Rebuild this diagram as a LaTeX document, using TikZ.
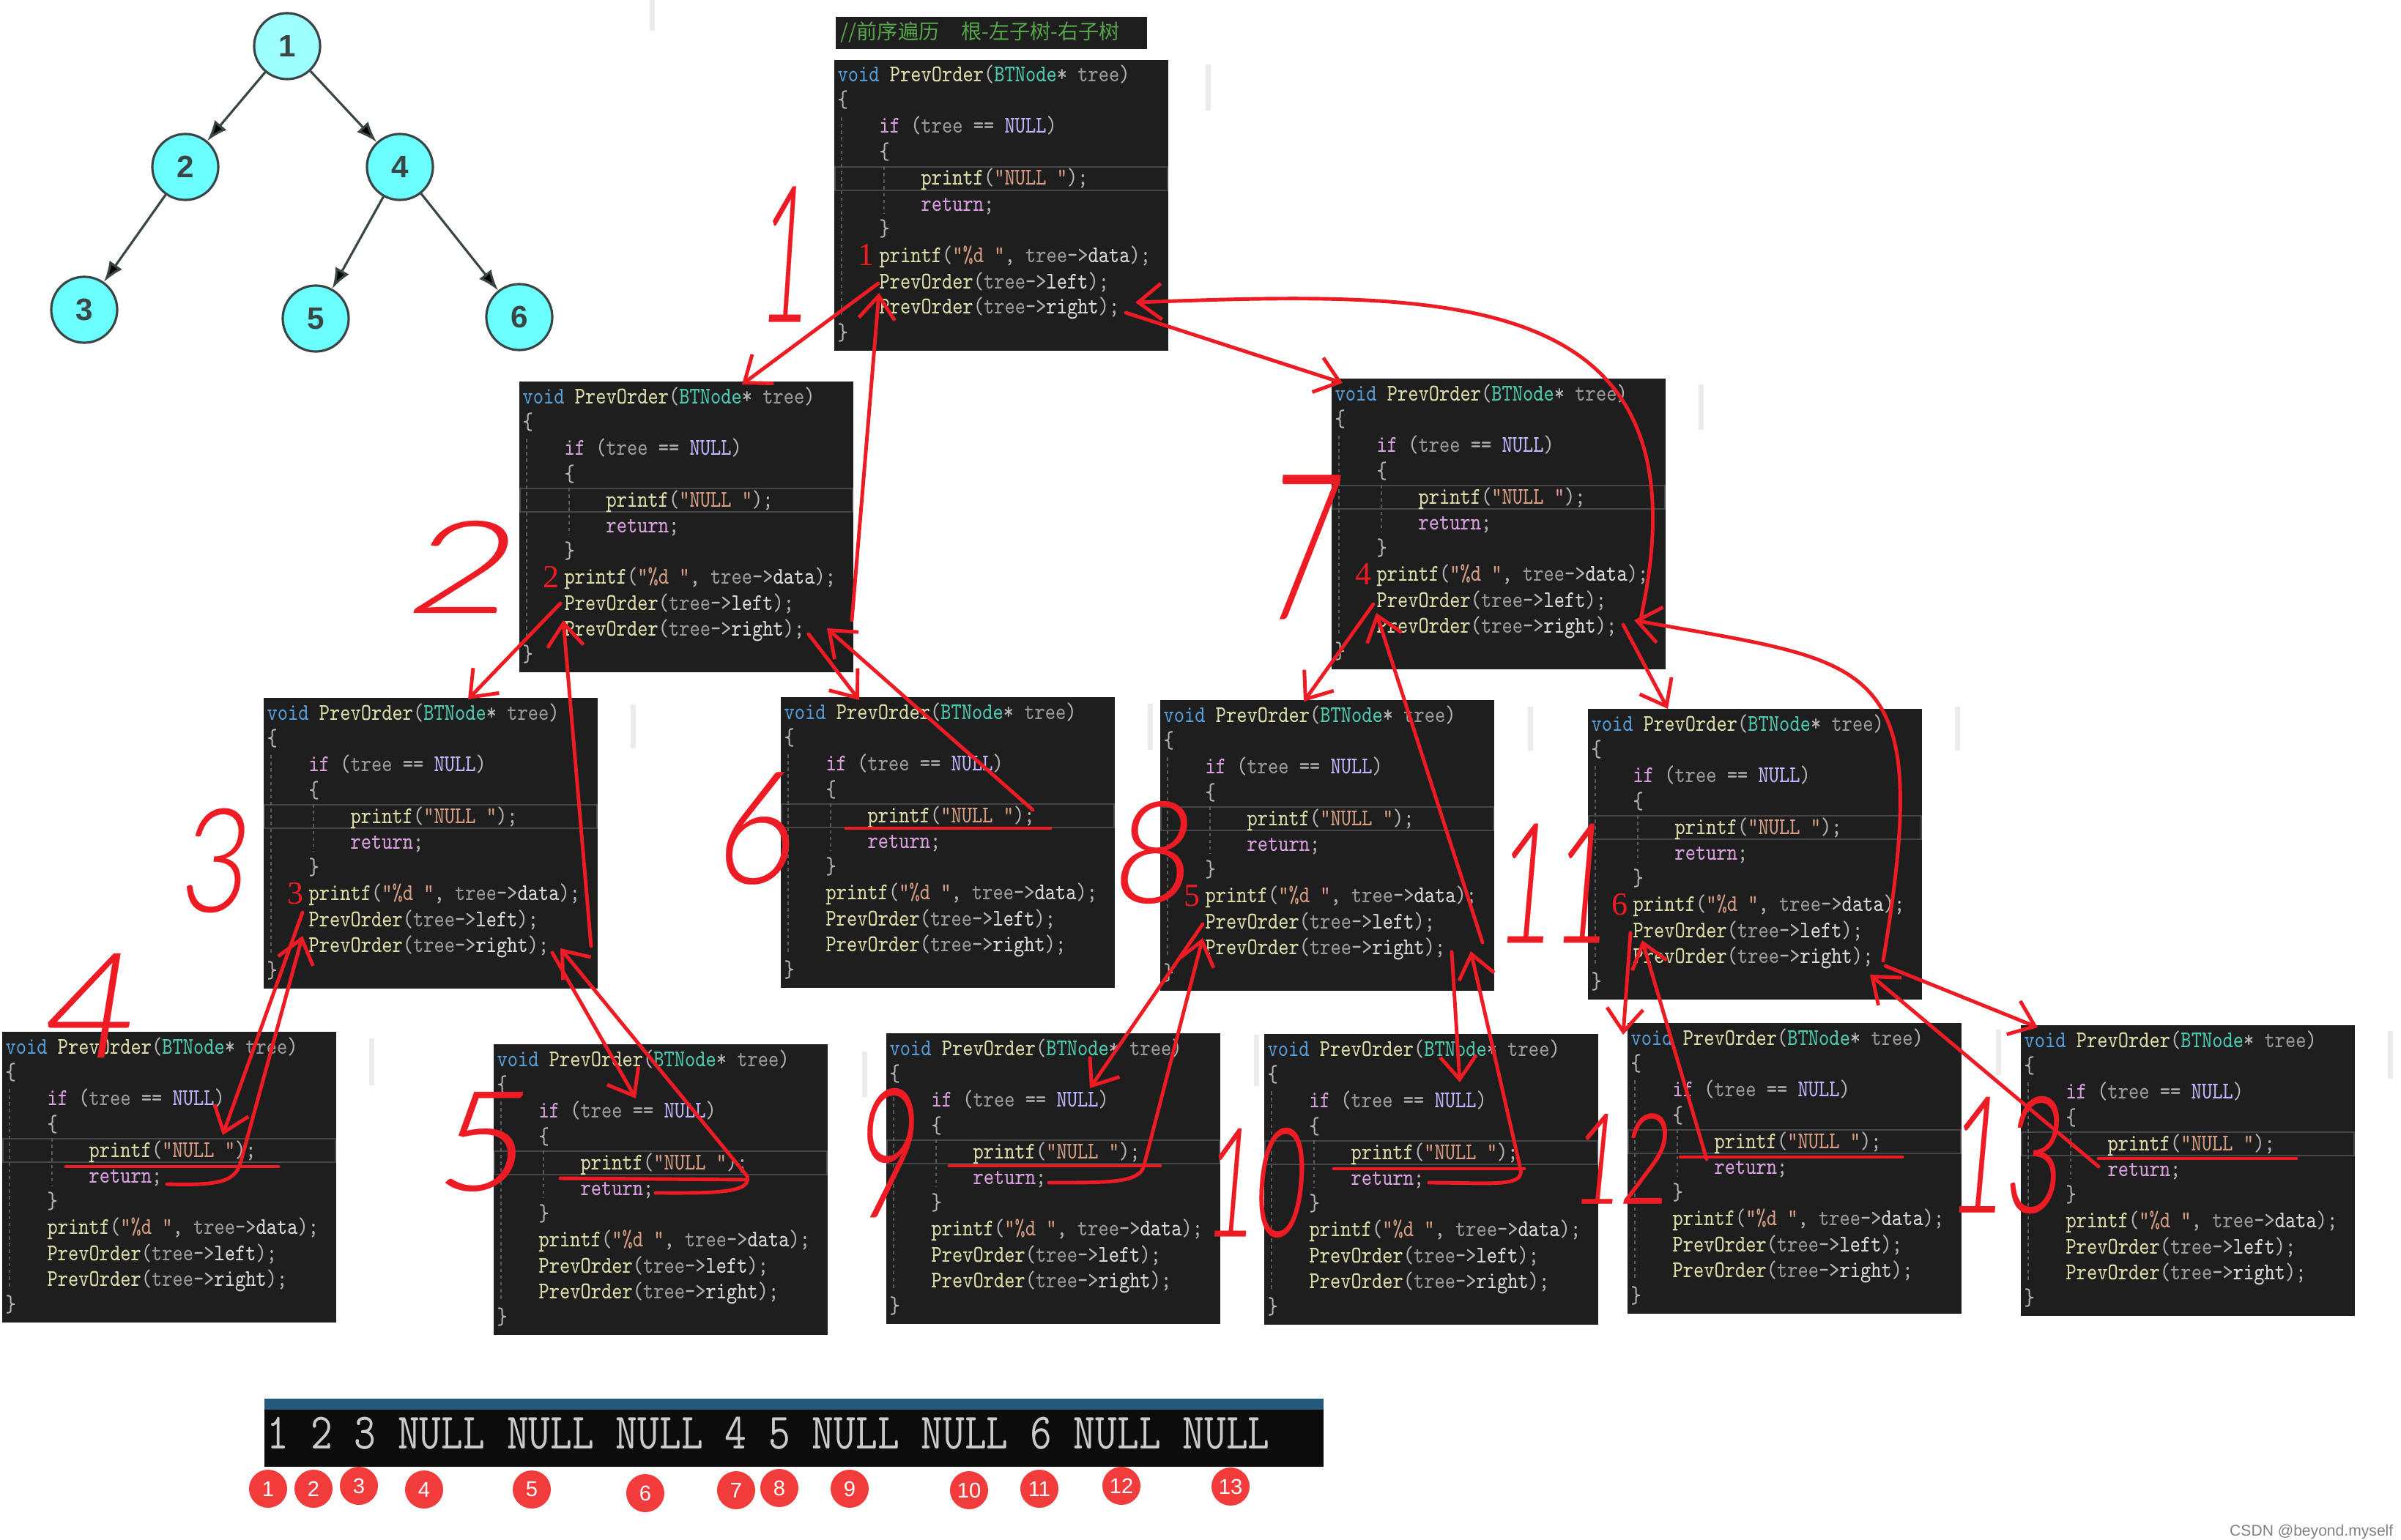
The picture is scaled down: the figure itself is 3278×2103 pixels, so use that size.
\documentclass[tikz,border=0pt]{standalone}
\usepackage{fontspec}
\usepackage{graphicx}
\usetikzlibrary{arrows.meta,calc}
\setmainfont{Liberation Serif}
\setsansfont{Liberation Sans}
\setmonofont{Latin Modern Mono}[FakeStretch=0.83]
\newfontfamily\cjkfont{Noto Sans CJK SC}
\newcommand{\tryhand}[2]{\IfFontExistsTF{#1}{\newfontfamily\handfont{#1}[FakeSlant=0.15, FakeBold=0.15]}{#2}}
\tryhand{FiraSans-Thin.otf}{\tryhand{FiraSans-Light.otf}{\tryhand{Lato-Light.ttf}{\tryhand{Noto Sans CJK SC Light}{\newfontfamily\handfont{DejaVu Sans}[FakeSlant=0.15]}}}}

\definecolor{codebg}{HTML}{1E1E1E}
\definecolor{ckw}{HTML}{569CD6}
\definecolor{cfn}{HTML}{DCDCAA}
\definecolor{cty}{HTML}{4EC9B0}
\definecolor{cpm}{HTML}{9A9A9A}
\definecolor{cpn}{HTML}{B4B4B4}
\definecolor{cctl}{HTML}{D8A0DF}
\definecolor{cmac}{HTML}{BEB7FF}
\definecolor{cstr}{HTML}{D69D85}
\definecolor{cmem}{HTML}{DADADA}
\definecolor{cguide}{HTML}{5A5A5A}
\definecolor{chl}{HTML}{464646}
\definecolor{ccom}{HTML}{57A64A}
\definecolor{hred}{HTML}{ED1C24}
\definecolor{seqred}{HTML}{F23C3C}
\definecolor{tfill}{HTML}{6BFFFF}
\definecolor{tfilltop}{HTML}{9EFFFF}
\definecolor{tline}{HTML}{3A4646}
\definecolor{conbar}{HTML}{245A7E}
\definecolor{conbg}{HTML}{0C0C0C}
\definecolor{context}{HTML}{CCCCCC}
\definecolor{scrap}{HTML}{EBEBEB}

\newcommand{\tkKw}[1]{\textcolor{ckw}{#1}}
\newcommand{\tkFn}[1]{\textcolor{cfn}{#1}}
\newcommand{\tkTy}[1]{\textcolor{cty}{#1}}
\newcommand{\tkPm}[1]{\textcolor{cpm}{#1}}
\newcommand{\tkPn}[1]{\textcolor{cpn}{#1}}
\newcommand{\tkCtl}[1]{\textcolor{cctl}{#1}}
\newcommand{\tkMac}[1]{\textcolor{cmac}{#1}}
\newcommand{\tkStr}[1]{\textcolor{cstr}{#1}}
\newcommand{\tkMem}[1]{\textcolor{cmem}{#1}}

\newcommand{\codepanel}[4]{%
  \node[panel] (#1) at (#2,#3) {};
  \draw[hlline] ($(#1.north west)+(1,146)$) rectangle ($(#1.north west)+(455,178)$);
  \draw[guide] ($(#1.north west)+(10,78)$) -- ($(#1.north west)+(10,352)$);
  \draw[guide] ($(#1.north west)+(68,145)$) -- ($(#1.north west)+(68,210)$);
  \node[codeline] (#1-0) at ($(#1.north west)+(4,30)$) {\tkKw{void} \tkFn{PrevOrder}\tkPn{(}\tkTy{BTNode}\tkPn{*} \tkPm{tree}\tkPn{)}};
  \node[codeline] (#1-1) at ($(#1.north west)+(4,65)$) {\tkPn{\{}};
  \node[codeline] (#1-2) at ($(#1.north west)+(61,100)$) {\tkCtl{if} \tkPn{(}\tkPm{tree} \tkPn{==} \tkMac{NULL}\tkPn{)}};
  \node[codeline] (#1-3) at ($(#1.north west)+(61,136)$) {\tkPn{\{}};
  \node[codeline] (#1-4) at ($(#1.north west)+(118,171)$) {\tkFn{printf}\tkPn{(}\tkStr{"NULL "}\tkPn{);}};
  \node[codeline] (#1-5) at ($(#1.north west)+(118,206)$) {\tkCtl{return}\tkPn{;}};
  \node[codeline] (#1-6) at ($(#1.north west)+(61,241)$) {\tkPn{\}}};
  \node[codeline] (#1-7) at ($(#1.north west)+(61,276)$) {\tkFn{printf}\tkPn{(}\tkStr{"\%d "}\tkPn{,} \tkPm{tree}\tkPn{->}\tkMem{data}\tkPn{);}};
  \node[codeline] (#1-8) at ($(#1.north west)+(61,312)$) {\tkFn{PrevOrder}\tkPn{(}\tkPm{tree}\tkPn{->}\tkMem{left}\tkPn{);}};
  \node[codeline] (#1-9) at ($(#1.north west)+(61,347)$) {\tkFn{PrevOrder}\tkPn{(}\tkPm{tree}\tkPn{->}\tkMem{right}\tkPn{);}};
  \node[codeline] (#1-10) at ($(#1.north west)+(4,382)$) {\tkPn{\}}};
  \node[boxnum] (#1-n) at ($(#1.north west)+(32,281)$) {#4};
}

\begin{document}
\begin{tikzpicture}[x=0.01cm,y=-0.01cm]
   \tikzstyle{panel}=[anchor=north west, fill=codebg, minimum width=4.56cm, minimum height=3.97cm, inner sep=0, outer sep=0]
   \tikzstyle{hlline}=[draw=chl, line width=0.8pt]
   \tikzstyle{guide}=[draw=cguide, line width=0.5pt, dash pattern=on 1.3pt off 1.3pt]
   \tikzstyle{codeline}=[anchor=base west, inner sep=0, font=\ttfamily\fontsize{9.3}{10}\selectfont]
   \tikzstyle{boxnum}=[anchor=base west, inner sep=0, text=hred, font=\rmfamily\fontsize{12.5}{12.5}\selectfont]
   \tikzstyle{redarrow}=[draw=hred, line width=1.4pt, line cap=round, line join=round, -{Straight Barb[length=9pt,width=14pt]}]
   \tikzstyle{redline}=[draw=hred, line width=1.4pt, line cap=round]
   \tikzstyle{hand}=[text=hred, inner sep=0]
   \tikzstyle{seq}=[circle, fill=seqred, text=white, minimum size=0.52cm, inner sep=0, font=\sffamily\fontsize{8.3}{8.3}\selectfont]
   \tikzstyle{tnode}=[circle, draw=tline, line width=0.9pt, fill=tfill, minimum size=0.9cm, inner sep=0, text=tline, font=\sffamily\bfseries\fontsize{12}{12}\selectfont]
   \tikzstyle{tedge}=[draw=tline, line width=0.9pt, -{Latex[length=8pt,width=6pt]}]
   \fill[white] (0,0) rectangle (3278,2103);
   \useasboundingbox (0,0) rectangle (3278,2103);

   \node[tnode, fill=tfilltop] (t1) at (392,63) {1};
   \node[tnode] (t2) at (253,228) {2};
   \node[tnode] (t4) at (546,228) {4};
   \node[tnode] (t3) at (115,423) {3};
   \node[tnode] (t5) at (431,435) {5};
   \node[tnode] (t6) at (709,433) {6};
   \path[tedge] (t1) edge (t2) (t1) edge (t4) (t2) edge (t3) (t4) edge (t5) (t4) edge (t6);

   \foreach \x/\ya/\yb in {887/0/42, 1646/88/151, 2319/525/587, 861/962/1022, 1567/961/1024, 2086/965/1025, 2669/965/1025, 504/1418/1482, 1177/1436/1498, 1712/1413/1483, 2725/1406/1468, 3260/1408/1473}
       \fill[scrap] (\x,\ya) rectangle (\x+7,\yb);

   \node[anchor=north west, fill=codebg, minimum width=4.25cm, minimum height=0.44cm, inner sep=0] (hdr) at (1140,22) {};
   \node[anchor=west, inner sep=0, text=ccom, font=\cjkfont\fontsize{8}{8}\selectfont] (hdrtxt) at (1147,44) {//前序遍历\hspace{0.3cm}根-左子树-右子树};

   \codepanel{A}{1139}{82}{1}
   \codepanel{B}{709}{521}{2}
   \codepanel{C}{1818}{517}{4}
   \codepanel{D}{360}{953}{3}
   \codepanel{E}{1066}{952}{}
   \codepanel{F}{1584}{956}{5}
   \codepanel{G}{2168}{968}{6}
   \codepanel{H}{3}{1409}{}
   \codepanel{I}{674}{1426}{}
   \codepanel{J}{1210}{1411}{}
   \codepanel{K}{1726}{1412}{}
   \codepanel{L}{2222}{1397}{}
   \codepanel{M}{2759}{1400}{}

   \node[anchor=north west, fill=conbg, minimum width=14.45cm, minimum height=0.93cm, inner sep=0, outer sep=0] (con) at (361,1910) {};
   \fill[conbar] (con.north west) rectangle ($(con.north east)+(0,15)$);
   \node[anchor=base west, inner sep=0, text=context, font=\ttfamily\fontsize{19.8}{19.8}\selectfont] (contxt) at (364,1978) {1 2 3 NULL NULL NULL 4 5 NULL NULL 6 NULL NULL};
   \foreach \n/\x/\y in {1/366/2033, 2/428/2033, 3/490/2029, 4/579/2034, 5/726/2034, 6/881/2039, 7/1005/2035, 8/1064/2032, 9/1160/2033, 10/1323/2035, 11/1419/2033, 12/1531/2029, 13/1680/2030}
       \node[seq] (s\n) at (\x,\y) {\n};

   \draw[redarrow] ($(A.north west)+(60,305)$) -- ($(B.north west)+(304,4)$);
   \draw[redarrow] ($(B.north west)+(454,326)$) -- ($(A.north west)+(61,318)$);
   \draw[redarrow] ($(A.north west)+(398,345)$) -- ($(C.north west)+(15,6)$);
   \draw[redarrow] ($(C.north west)+(422,328)$) .. controls +(100,-460) and +(420,-15) .. ($(A.north west)+(411,331)$);
   \draw[redarrow] ($(C.north west)+(57,308)$) -- ($(F.north west)+(196,2)$);
   \draw[redarrow] ($(F.north west)+(440,331)$) -- ($(C.north west)+(61,320)$);
   \draw[redarrow] ($(C.north west)+(398,336)$) -- ($(G.north west)+(109,0)$);
   \draw[redarrow] ($(G.north west)+(403,344)$) .. controls +(70,-420) and +(330,60) .. ($(C.north west)+(413,330)$);
   \draw[redarrow] ($(B.north west)+(56,303)$) -- ($(D.north west)+(279,2)$);
   \draw[redarrow] ($(D.north west)+(447,339)$) -- ($(B.north west)+(60,326)$);
   \draw[redarrow] ($(B.north west)+(395,345)$) -- ($(E.north west)+(107,4)$);
   \draw[redline] ($(E.north west)+(89,179)$) -- ($(E.north west)+(368,179)$);
   \draw[redarrow] ($(E.north west)+(344,154)$) -- ($(B.north west)+(420,337)$);
   \draw[redarrow] ($(D.north west)+(53,293)$) -- ($(H.north west)+(301,141)$);
   \draw[redline] ($(H.north west)+(87,184)$) -- ($(H.north west)+(377,184)$);
   \draw[redarrow] ($(H.north west)+(225,208)$) .. controls +(70,2) and +(-8,25) .. ($(H.north west)+(325,180)$) -- ($(D.north west)+(53,325)$);
   \draw[redarrow] ($(D.north west)+(394,348)$) -- ($(I.north west)+(194,74)$);
   \draw[redline] ($(I.north west)+(91,183)$) -- ($(I.north west)+(346,185)$);
   \draw[redarrow] ($(I.north west)+(221,203)$) .. controls +(70,0) and +(8,25) .. ($(I.north west)+(346,180)$) -- ($(D.north west)+(405,342)$);
   \draw[redarrow] ($(F.north west)+(58,306)$) -- ($(J.north west)+(278,75)$);
   \draw[redline] ($(J.north west)+(86,181)$) -- ($(J.north west)+(374,181)$);
   \draw[redarrow] ($(J.north west)+(222,204)$) .. controls +(80,0) and +(-5,25) .. ($(J.north west)+(352,180)$) -- ($(F.north west)+(58,325)$);
   \draw[redarrow] ($(F.north west)+(398,344)$) -- ($(K.north west)+(267,66)$);
   \draw[redline] ($(K.north west)+(95,184)$) -- ($(K.north west)+(355,184)$);
   \draw[redarrow] ($(K.north west)+(225,203)$) .. controls +(80,0) and +(5,25) .. ($(K.north west)+(350,185)$) -- ($(F.north west)+(424,343)$);
   \draw[redarrow] ($(G.north west)+(58,306)$) -- ($(L.north west)+(-6,16)$);
   \draw[redline] ($(L.north west)+(72,183)$) -- ($(L.north west)+(375,183)$);
   \draw[redarrow] ($(L.north west)+(108,186)$) -- ($(G.north west)+(74,316)$);
   \draw[redarrow] ($(G.north west)+(406,351)$) -- ($(M.north west)+(23,3)$);
   \draw[redline] ($(M.north west)+(106,182)$) -- ($(M.north west)+(376,182)$);
   \draw[redarrow] ($(M.north west)+(106,193)$) -- ($(G.north west)+(385,363)$);

   \foreach \n/\x/\y/\s/\w in {1/1068/347/74/0.45, 2/622/774/50/1.4, 3/288/1175/56/0.8, 4/115/1373/57/1.05, 5/652/1559/54/1.1, 6/1027/1131/61/0.87, 7/1772/747/79/0.6, 8/1568/1164/55/0.95, 9/1206/1574/70/0.58, 10/1710/1615/59/0.56, 11/2117/1206/65/0.58, 12/2210/1582/49/0.66, 13/2734/1577/63/0.6}
       \node[hand, font=\handfont\fontsize{\s}{\s}\selectfont] (h\n) at (\x,\y) {\scalebox{\w}[1]{\n}};

   \node[anchor=east, inner sep=0, text=gray, font=\sffamily\fontsize{6}{6}\selectfont] (mark) at (3268,2092) {CSDN @beyond.myself};
\end{tikzpicture}
\end{document}
